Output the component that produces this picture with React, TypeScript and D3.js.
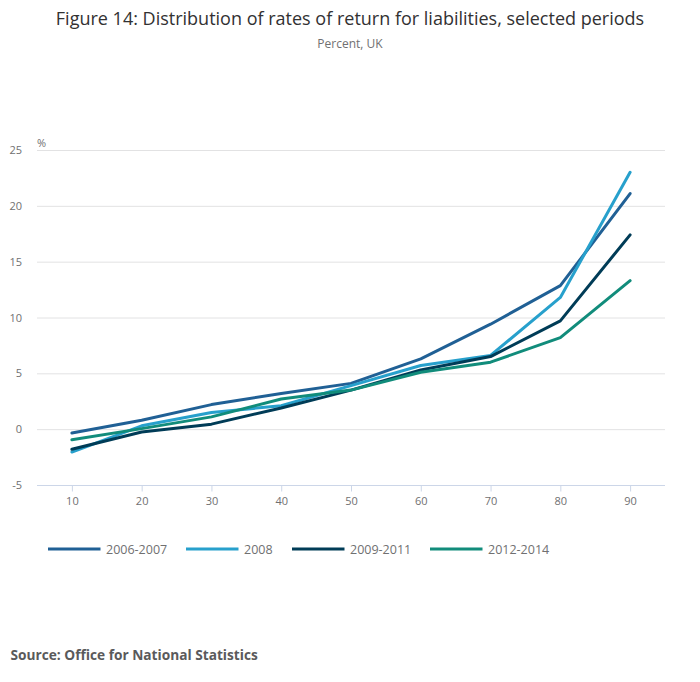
import { useEffect, useRef } from 'react';
import * as d3 from 'd3';

const WIDTH = 700;
const HEIGHT = 682;
const MARGIN = { top: 150, right: 35, bottom: 197, left: 37 };

const percentiles = [10, 20, 30, 40, 50, 60, 70, 80, 90];
const yTicks = [-5, 0, 5, 10, 15, 20, 25];

const series2006to2007 = [-0.35, 0.8, 2.2, 3.2, 4.1, 6.3, 9.4, 12.85, 21.1];
const series2008 = [-2.05, 0.3, 1.5, 2.1, 3.9, 5.7, 6.6, 11.8, 23.0];
const series2009to2011 = [-1.8, -0.25, 0.45, 1.9, 3.5, 5.3, 6.5, 9.7, 17.4];
const series2012to2014 = [-0.95, 0.05, 1.1, 2.7, 3.5, 5.1, 6.0, 8.2, 13.3];

const seriesNames = ['2006-2007', '2008', '2009-2011', '2012-2014'];
const seriesColors = ['#206095', '#27a0cc', '#003c57', '#118c7b'];

type Point = { x: number; y: number };

const ALL_SERIES = [series2006to2007, series2008, series2009to2011, series2012to2014];

const FONT = '"Open Sans", "Noto Sans", sans-serif';

const Chart = () => {
  const axesRef = useRef<SVGGElement>(null);

  const boundsWidth = WIDTH - MARGIN.left - MARGIN.right;
  const boundsHeight = HEIGHT - MARGIN.top - MARGIN.bottom;

  const xScale = d3.scaleLinear().domain([5, 95]).range([0, boundsWidth]);
  const yScale = d3.scaleLinear().domain([-5, 25]).range([boundsHeight, 0]);

  useEffect(() => {
    const g = d3.select(axesRef.current);
    g.selectAll('*').remove();

    // horizontal gridlines
    g.append('g')
      .selectAll('line')
      .data(yTicks.filter((t) => t !== -5))
      .join('line')
      .attr('x1', 0)
      .attr('x2', boundsWidth)
      .attr('y1', (d) => yScale(d) + 0.5)
      .attr('y2', (d) => yScale(d) + 0.5)
      .attr('stroke', '#e2e2e3')
      .attr('stroke-width', 1);

    // y labels
    g.append('g')
      .selectAll('text')
      .data(yTicks)
      .join('text')
      .attr('x', -15)
      .attr('y', (d) => yScale(d) + 4)
      .attr('text-anchor', 'end')
      .attr('font-size', 11)
      .attr('font-family', FONT)
      .attr('fill', '#707071')
      .text((d) => d);

    const xAxis = d3
      .axisBottom(xScale)
      .tickValues(percentiles)
      .tickSize(6)
      .tickSizeOuter(0);

    g.append('g')
      .attr('transform', `translate(0,${boundsHeight + 0.5})`)
      .call(xAxis)
      .call((a) => a.select('.domain').attr('stroke', '#ccd6e8').attr('d', `M0,0H${boundsWidth}`))
      .call((a) => a.selectAll('.tick line').attr('stroke', '#ccd6e8'))
      .call((a) =>
        a
          .selectAll('.tick text')
          .attr('font-size', 11)
          .attr('font-family', FONT)
          .attr('fill', '#707071')
          .attr('dy', '0.95em')
      );
  }, [xScale, yScale, boundsWidth, boundsHeight]);

  const lineBuilder = d3
    .line<Point>()
    .x((d) => xScale(d.x))
    .y((d) => yScale(d.y));

  const legendX = [48, 186, 292, 430];

  return (
    <svg width={WIDTH} height={HEIGHT} style={{ display: 'block', position: 'absolute', left: 0, top: 0 }}>
      <rect width={WIDTH} height={HEIGHT} fill='#ffffff' />
      <text x={WIDTH / 2} y={24.5} textAnchor='middle' fontSize={18} fontFamily={FONT} fill='#323132'>
        Figure 14: Distribution of rates of return for liabilities, selected periods
      </text>
      <text x={WIDTH / 2} y={48} textAnchor='middle' fontSize={12} fontFamily={FONT} fill='#707071'>
        Percent, UK
      </text>
      <text x={MARGIN.left} y={147} fontSize={11} fontFamily={FONT} fill='#707071'>
        %
      </text>
      <g ref={axesRef} transform={`translate(${MARGIN.left},${MARGIN.top})`} />
      <g transform={`translate(${MARGIN.left},${MARGIN.top})`}>
        {ALL_SERIES.map((values, i) => (
          <path
            key={seriesNames[i]}
            d={lineBuilder(values.map((v, j) => ({ x: percentiles[j], y: v }))) ?? ''}
            fill='none'
            stroke={seriesColors[i]}
            strokeWidth={3}
            strokeLinejoin='round'
            strokeLinecap='round'
          />
        ))}
      </g>
      <g>
        {seriesNames.map((name, i) => (
          <g key={name} transform={`translate(${legendX[i]},549)`}>
            <line x1={0} x2={52.5} y1={0} y2={0} stroke={seriesColors[i]} strokeWidth={3} />
            <text x={58} y={4.5} fontSize={12.5} fontFamily={FONT} fill='#707071'>
              {name}
            </text>
          </g>
        ))}
      </g>
      <text x={10.5} y={660} fontSize={13.7} fontWeight='bold' fontFamily={FONT} fill='#5a5a5b'>
        Source: Office for National Statistics
      </text>
    </svg>
  );
};

export default function App() {
  return <Chart />;
}
